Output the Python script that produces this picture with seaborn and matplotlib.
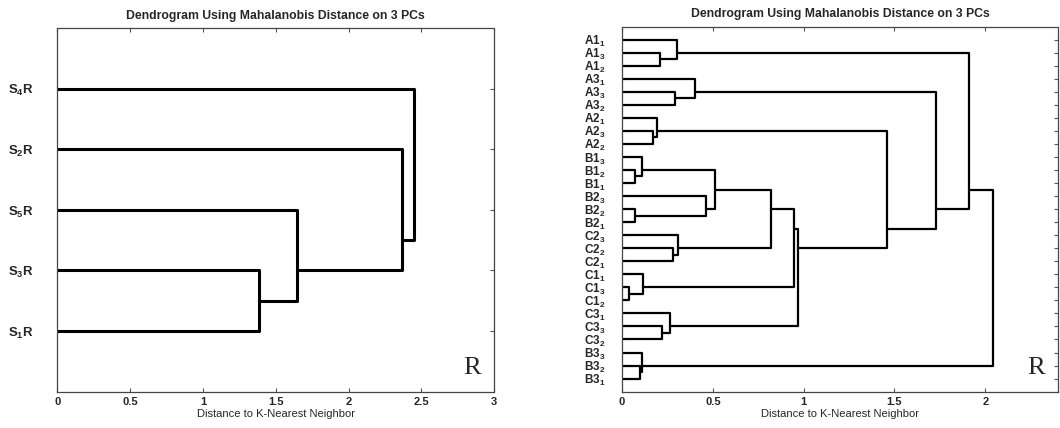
import numpy as np
import pandas as pd
import seaborn as sns
import matplotlib.pyplot as plt

# Left panel: leaves top to bottom, merges as (child a, child b, height)
left_leaves = ["S$_4$R", "S$_2$R", "S$_5$R", "S$_3$R", "S$_1$R"]
left_merges = [(3, 4, 1.383), (2, 5, 1.649), (1, 6, 2.367), (0, 7, 2.451)]

# Right panel
right_groups = ["A1", "A1", "A1", "A3", "A3", "A3", "A2", "A2", "A2",
                "B1", "B1", "B1", "B2", "B2", "B2", "C2", "C2", "C2",
                "C1", "C1", "C1", "C3", "C3", "C3", "B3", "B3", "B3"]
right_subs = [1, 3, 2, 1, 3, 2, 1, 3, 2,
              3, 2, 1, 3, 2, 1, 3, 2, 1,
              1, 3, 2, 1, 3, 2, 3, 2, 1]
right_merges = [
    (1, 2, 0.21), (0, 27, 0.30),
    (4, 5, 0.29), (3, 29, 0.40),
    (7, 8, 0.17), (6, 31, 0.19),
    (10, 11, 0.07), (9, 33, 0.11),
    (13, 14, 0.07), (12, 35, 0.46),
    (34, 36, 0.51),
    (16, 17, 0.28), (15, 38, 0.31),
    (37, 39, 0.82),
    (19, 20, 0.04), (18, 41, 0.115),
    (40, 42, 0.945),
    (22, 23, 0.22), (21, 44, 0.265),
    (43, 45, 0.97),
    (32, 46, 1.46),
    (30, 47, 1.73),
    (28, 48, 1.91),
    (25, 26, 0.10), (24, 50, 0.11),
    (49, 51, 2.04),
]


def dendro_segments(n, merges):
    # position of a cluster = mean of its leaf rows (as in the old MATLAB plot)
    members = {i: [i + 1] for i in range(n)}
    height = {i: 0.0 for i in range(n)}
    rows = []
    for k, (a, b, h) in enumerate(merges):
        cid = n + k
        ya, yb = np.mean(members[a]), np.mean(members[b])
        for x, y in [(height[a], ya), (h, ya), (h, yb), (height[b], yb)]:
            rows.append({"x": x, "y": y, "seg": k})
        members[cid] = members[a] + members[b]
        height[cid] = h
    return pd.DataFrame(rows)


sns.set_style("white")
plt.rcParams["font.family"] = ["Liberation Sans", "DejaVu Sans"]
plt.rcParams["mathtext.fontset"] = "custom"
plt.rcParams["mathtext.bf"] = "Liberation Sans:bold"
plt.rcParams["mathtext.rm"] = "Liberation Sans:bold"
plt.rcParams["mathtext.default"] = "bf"

fig = plt.figure(figsize=(10.6, 4.28), dpi=100)
ax1 = fig.add_axes([0.054, 0.085, 0.4123, 0.849])
ax2 = fig.add_axes([0.5868, 0.085, 0.4113, 0.853])

panels = [
    (ax1, left_leaves, left_merges, (0, 3), np.arange(0, 3.01, 0.5), 2.2, 9.5, 17),
    (ax2, [f"{g}$_{s}$" for g, s in zip(right_groups, right_subs)], right_merges,
     (0, 2.4), np.arange(0, 2.01, 0.5), 1.6, 8.5, 12),
]

for ax, labels, merges, xlim, xticks, lw, lfs, lpad in panels:
    n = len(labels)
    df = dendro_segments(n, merges)
    sns.lineplot(data=df, x="x", y="y", units="seg", estimator=None, sort=False,
                 color="black", lw=lw, legend=False, ax=ax)
    ax.set_xlim(*xlim)
    ax.set_ylim(n + 1, 0)
    ax.set_xticks(xticks)
    ax.set_xticklabels([f"{t:g}" for t in xticks], fontsize=8, fontweight="bold")
    ax.set_yticks(np.arange(1, n + 1))
    ax.set_yticklabels(labels, fontsize=lfs, fontweight="bold")
    ax.tick_params(axis="y", pad=lpad, length=3, direction="in", right=True, left=True, color="#555555")
    ax.tick_params(axis="x", pad=4, length=3, direction="in", top=True, bottom=True, color="#555555")
    for sp in ax.spines.values():
        sp.set_linestyle((0, (1, 1)))
        sp.set_color("#444444")
        sp.set_linewidth(0.9)
    ax.set_xlabel("Distance to K-Nearest Neighbor", fontsize=8, labelpad=1)
    ax.set_ylabel("")
    ax.set_title("Dendrogram Using Mahalanobis Distance on 3 PCs", fontsize=8.8,
                 fontweight="bold", pad=7)
    ax.text(0.97, 0.035, "R", transform=ax.transAxes, ha="right", va="bottom",
            fontsize=19, family=["Liberation Serif", "DejaVu Serif"])

fig.savefig("out.png", dpi=100)
